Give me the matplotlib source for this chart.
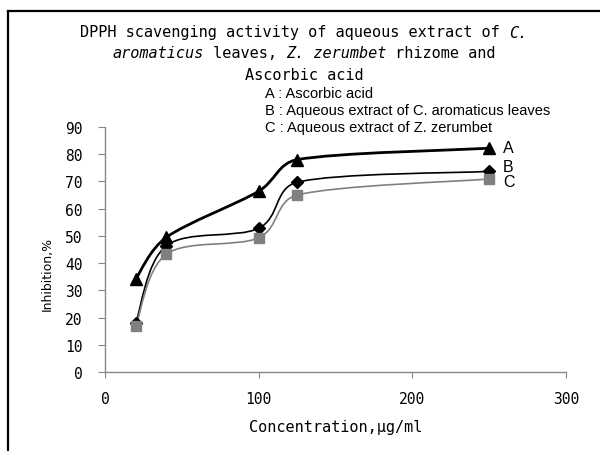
import matplotlib
matplotlib.use('Agg')
import matplotlib.pyplot as plt
import numpy as np
from matplotlib.path import Path
from matplotlib.patches import PathPatch
from matplotlib.lines import Line2D

# data
conc = [20, 40, 100, 125, 250]
ascorbic = [34.2, 49.5, 66.4, 78.0, 82.2]
coleus = [17.9, 46.4, 52.8, 69.7, 73.7]
zerumbet = [16.8, 43.3, 49.3, 65.0, 70.9]

x_ticks = [0, 100, 200, 300]
y_ticks = [0, 10, 20, 30, 40, 50, 60, 70, 80, 90]

legend_lines = ["A : Ascorbic acid",
                "B : Aqueous extract of C. aromaticus leaves",
                "C : Aqueous extract of Z. zerumbet"]
title_lines = [
    [("DPPH scavenging activity of aqueous extract of ", "normal"), ("C.", "italic")],
    [("aromaticus", "italic"), (" leaves, ", "normal"), ("Z. zerumbet", "italic"),
     (" rhizome and", "normal")],
    [("Ascorbic acid", "normal")],
]

W, H = 600, 452
GRAY = '#868686'
SPACED = 'DejaVu Sans Mono'   # stands in for the letter-spaced excel text
ARIAL = 'Liberation Sans'

fig = plt.figure(figsize=(W / 100, H / 100), dpi=100)
fig.patch.set_facecolor('white')

# plot area in pixel terms: x 105..566, y 128..373
ax = fig.add_axes([105 / W, 1 - 373 / H, 461 / W, 245 / H])
ax.set_xlim(0, 300)
ax.set_ylim(0, 90)
sx, sy = 461 / 300, 245 / 90


def smooth_path(xs, ys, clamp=0.4):
    # excel style smoothed line (catmull-rom as bezier), done in pixel space
    p = np.column_stack([np.array(xs) * sx, np.array(ys) * sy])
    n = len(p)
    verts = [p[0]]
    codes = [Path.MOVETO]
    for i in range(n - 1):
        p0 = p[i - 1] if i > 0 else p[i]
        p3 = p[i + 2] if i + 2 < n else p[i + 1]
        seg = np.hypot(*(p[i + 1] - p[i]))
        d1 = (p[i + 1] - p0) / 6
        d2 = (p3 - p[i]) / 6
        # keep control arms short on short segments so the curve does not kink
        for d in (d1, d2):
            ln = np.hypot(*d)
            if ln > clamp * seg:
                d *= clamp * seg / ln
        verts += [p[i] + d1, p[i + 1] - d2, p[i + 1]]
        codes += [Path.CURVE4] * 3
    v = np.array(verts) / [sx, sy]
    return Path(v, codes)


series = [
    (ascorbic, 'black', 2.0, '^', 9, 'A', (14, 1)),
    (coleus, 'black', 1.2, 'D', 6, 'B', (14, 5)),
    (zerumbet, '#808080', 1.2, 's', 7, 'C', (14, -3)),
]
for ys, col, lw, mk, ms, lab, off in series:
    ax.add_patch(PathPatch(smooth_path(conc, ys), facecolor='none', edgecolor=col,
                           lw=lw, zorder=2))
    ax.plot(conc, ys, linestyle='none', marker=mk, markersize=ms, color=col,
            markeredgecolor=col, zorder=3)
    ax.annotate(lab, (conc[-1], ys[-1]), xytext=off, textcoords='offset pixels',
                ha='left', va='center', fontsize=11.5, family=ARIAL)

for s in ['top', 'right']:
    ax.spines[s].set_visible(False)
for s in ['left', 'bottom']:
    ax.spines[s].set_color(GRAY)
    ax.spines[s].set_linewidth(1)
ax.set_xticks(x_ticks)
ax.set_yticks(y_ticks)
ax.tick_params(axis='y', direction='out', length=5, color=GRAY, pad=11,
               labelsize=10.5)
ax.tick_params(axis='x', direction='out', length=4, color=GRAY, pad=10,
               labelsize=10.5)
for t in ax.get_xticklabels() + ax.get_yticklabels():
    t.set_family(SPACED)

fig.text(336 / W, 1 - 428 / H, "Concentration,µg/ml", ha='center', va='center',
         fontsize=11, family=SPACED)
fig.text(47 / W, 1 - 274 / H, "Inhibition,%", ha='center', va='center',
         rotation=90, fontsize=9, family='DejaVu Sans')

# title, lines centred with mixed italic parts
renderer = fig.canvas.get_renderer()
for parts, yc in zip(title_lines, [33, 54, 75]):
    items = []
    for txt, st in parts:
        t = fig.text(0, 0, txt, style=st, fontsize=11, family=SPACED,
                     ha='left', va='center')
        items.append((t, t.get_window_extent(renderer).width))
    x = 304 - sum(w for _, w in items) / 2
    for t, w in items:
        t.set_position((x / W, 1 - yc / H))
        x += w

for txt, yc in zip(legend_lines, [94, 111, 128]):
    fig.text(265 / W, 1 - yc / H, txt, ha='left', va='center', fontsize=10.5,
             family=ARIAL)

# outer frame (only left and top edges visible)
fig.add_artist(Line2D([8 / W, 8 / W], [0, 1 - 12 / H], color='black', lw=1.6,
                      transform=fig.transFigure))
fig.add_artist(Line2D([8 / W, 1], [1 - 12 / H, 1 - 12 / H], color='black', lw=1.6,
                      transform=fig.transFigure))

fig.savefig('out.png', dpi=100)
